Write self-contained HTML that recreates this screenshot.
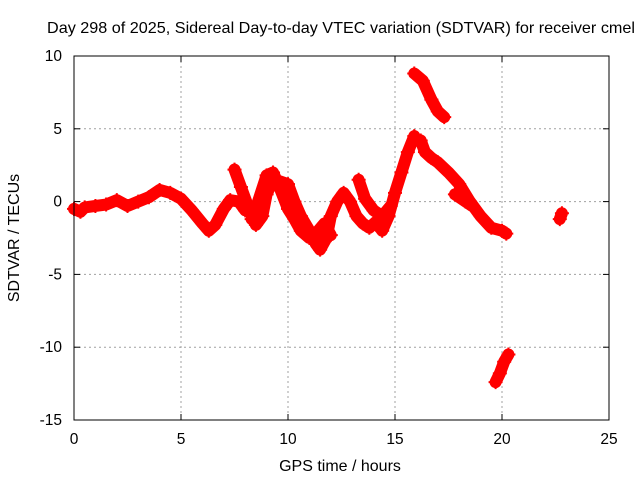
<!DOCTYPE html>
<html><head><meta charset="utf-8"><style>
body{margin:0;background:#fff}
svg{display:block;font-family:"Liberation Sans",sans-serif}
</style></head><body>
<svg id="chart" width="640" height="480">
<text x="47" y="33" font-size="16" textLength="588" lengthAdjust="spacingAndGlyphs">Day 298 of 2025, Sidereal Day-to-day VTEC variation (SDTVAR) for receiver cmel</text>
<text x="340" y="471" font-size="16" text-anchor="middle">GPS time / hours</text>
<text transform="translate(19,238) rotate(-90)" font-size="16" text-anchor="middle">SDTVAR / TECUs</text>
<g id="grid"></g><g id="ticks"></g><g id="series"></g>
<rect x="74" y="56" width="535" height="364" fill="none" stroke="#000"/>
</svg>
<script>
const xTicks=[0,5,10,15,20,25];
const yTicks=[10,5,0,-5,-10,-15];
const segA=[[0,-0.5],[0.3,-0.7],[0.5,-0.4],[1,-0.3],[1.5,-0.2],[2,0.1],[2.5,-0.3],[3,0],[3.5,0.3],[4,0.8],[4.5,0.6],[5,0.2],[5.5,-0.6],[6,-1.5],[6.3,-2],[6.6,-1.6],[7,-0.5],[7.3,0.1],[7.7,0],[8,-0.6]];
const segB=[[7.5,2.2],[7.8,1],[8.2,-0.6],[8.5,-1.6],[8.8,-1],[9,0.5],[9.3,1.5],[9.6,1.4],[10,1.2],[10.3,0],[10.6,-1],[11,-2],[11.3,-2.9],[11.5,-3.3],[11.8,-2.5],[12,-1],[12.3,0],[12.6,0.6],[12.9,0],[13.2,-1],[13.5,-1.5],[13.8,-1.8],[14.1,-1.4],[14.4,-2],[14.7,-1],[15,0.6],[15.3,2],[15.6,3.4],[15.9,4.5]];
const segC=[[8.3,-1.2],[8.6,0],[9,1.8],[9.3,2],[9.6,1],[10,-0.5],[10.3,-1.2],[10.6,-2],[11,-2.5],[11.3,-2.2],[11.7,-1.5],[12,-2.3]];
const segC2=[[13.3,1.5],[13.6,0.2],[14,-0.6],[14.4,-1],[14.8,-0.3]];
const segD=[[15.9,8.8],[16.3,8.3],[16.7,7],[17,6.2],[17.3,5.8]];
const segE=[[16.2,4.2],[16.4,3.4],[16.7,3],[17,2.7],[17.5,2],[18,1.2],[18.5,0],[19,-1],[19.5,-1.8],[20,-2],[20.2,-2.2]];
const segF=[[17.8,0.5],[18.3,0],[18.6,-0.3]];
const segG=[[19.7,-12.4],[19.9,-11.8],[20.1,-11],[20.3,-10.5]];
const segH=[[22.7,-1.2],[22.8,-0.8]];
const segments=[segA,segB,segC,segC2,segD,segE,segF,segG,segH];
const xs=v=>74+v*535/25, ys=v=>56+(10-v)*364/25;
const NS="http://www.w3.org/2000/svg";
const mk=(t,a,p)=>{const e=document.createElementNS(NS,t);for(const k in a)e.setAttribute(k,a[k]);p.appendChild(e);return e;};
const grid=document.getElementById('grid'),ticks=document.getElementById('ticks'),ser=document.getElementById('series');
xTicks.forEach(v=>{const x=xs(v);
 if(v>0&&v<25){const l=mk('line',{x1:x,x2:x,y1:56,y2:420,stroke:'#a0a0a0','stroke-dasharray':'2,3'},grid);}
 const t=mk('text',{x:x,y:444,'font-size':15.5,'text-anchor':'middle'},ticks);t.textContent=v;
 
 mk('line',{x1:x,x2:x,y1:420,y2:414,stroke:'#000'},ticks);mk('line',{x1:x,x2:x,y1:56,y2:62,stroke:'#000'},ticks);});
yTicks.forEach(v=>{const y=ys(v);
 if(v<10&&v>-15){const l=mk('line',{x1:74,x2:609,y1:y,y2:y,stroke:'#a0a0a0','stroke-dasharray':'2,3'},grid);}
 const t=mk('text',{x:62,y:y+5,'font-size':15.5,'text-anchor':'end'},ticks);t.textContent=v;
 
 mk('line',{x1:74,x2:80,y1:y,y2:y,stroke:'#000'},ticks);mk('line',{x1:609,x2:603,y1:y,y2:y,stroke:'#000'},ticks);});
segments.forEach(s=>{
 const pl=mk('polyline',{points:s.map(p=>xs(p[0])+','+ys(p[1])).join(' '),fill:'none',stroke:'#f00','stroke-width':12,'stroke-linejoin':'round','stroke-linecap':'round'},ser);
 
 
 s.forEach(p=>{const x=xs(p[0]),y=ys(p[1]);
  const m=mk('path',{d:`M${x-7},${y}h14M${x},${y-7}v14`,stroke:'#f00','stroke-width':2},ser);
  
  });
});
</script>
</body></html>
